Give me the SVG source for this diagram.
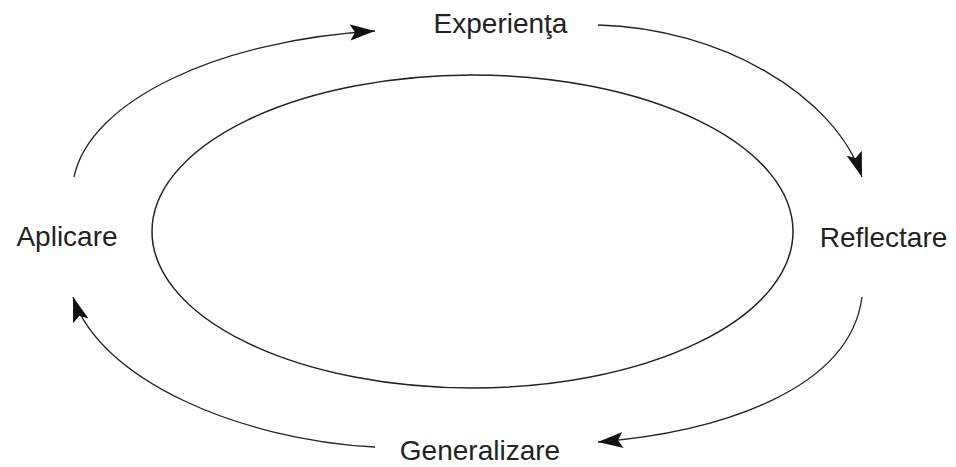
<svg xmlns="http://www.w3.org/2000/svg" width="956" height="467" viewBox="0 0 956 467">
  <defs>
    <style>
      .lbl { font-family: "Liberation Sans", Arial, sans-serif; font-size: 28px; fill: #222; }
      .conn { fill: none; stroke: #222; stroke-width: 1.3; marker-end: url(#ah); }
      .ring { fill: none; stroke: #222; stroke-width: 1.5; }
    </style>
    <marker id="ah" markerUnits="userSpaceOnUse" markerWidth="28" markerHeight="18" refX="25" refY="8" orient="auto">
      <path d="M0,0 L25,8 L0,16 L5,8 z" fill="#111"/>
    </marker>
  </defs>
  <rect width="956" height="467" fill="#fff"/>
  <g id="cycle">
    <ellipse class="ring" cx="472.5" cy="231.5" rx="320.5" ry="156.5"/>
  </g>
  <g id="connectors">
    <path class="conn" d="M74,177 C90,100 220,40 375,31"/>
    <path class="conn" d="M598,25 C720,28 835,95 862,177"/>
    <path class="conn" d="M862,297 C850,390 720,432 598,442"/>
    <path class="conn" d="M375,447 C240,440 100,380 73,297"/>
  </g>
  <g id="experienta"><text class="lbl" x="500.5" y="33" text-anchor="middle">Experienţa</text></g>
  <g id="reflectare"><text class="lbl" x="883.5" y="247" text-anchor="middle">Reflectare</text></g>
  <g id="generalizare"><text class="lbl" x="480" y="460" text-anchor="middle">Generalizare</text></g>
  <g id="aplicare"><text class="lbl" x="67" y="246" text-anchor="middle">Aplicare</text></g>
</svg>
